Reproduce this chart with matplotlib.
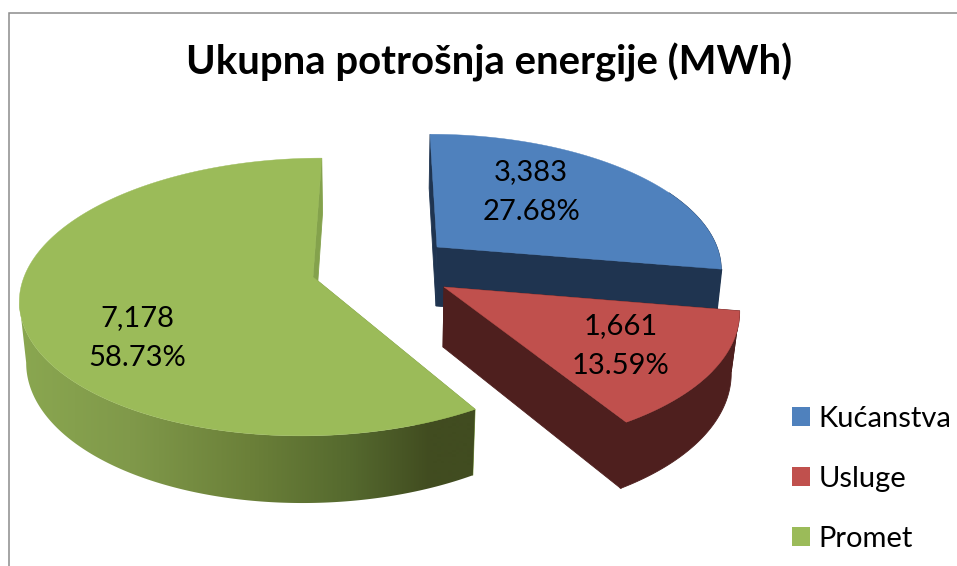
import numpy as np
import matplotlib
matplotlib.use("Agg")
import matplotlib.pyplot as plt
from matplotlib.patches import Polygon, Patch
from matplotlib.colors import to_rgb

plt.rcParams['font.family'] = ['Lato', 'DejaVu Sans']

# ---- data ----
title = "Ukupna potrošnja energije (MWh)"
categories = ["Kućanstva", "Usluge", "Promet"]
values = [3383, 1661, 7178]

# ---- styles ----
top_colors = ["#4F81BD", "#C0504D", "#9BBB59"]
wall_colors = ["#1F3450", "#4E1F1E", "#84A24C"]
green_wall_x = [20, 130, 250, 350, 430, 480]
green_wall_rgb = ["#8AA750", "#80994A", "#6B8039", "#55692E", "#414C20", "#414C20"]
PERSP = 0.144
# apex x, apex y, rx, ry, shear for the top face of each exploded wedge
geom = [(437, 247, 280, 129, -8), (444, 287, 291, 139, -9.5), (313, 277, 289, 136, 10)]
low_apex = [(436, 306), (443, 347), (314, 337)]
low_fx = [0.98, 0.975, 0.98]
FY = 1.045
label_xy = [(531, 192), (621, 346), (137, 338)]

def rim(t, g, fx=1.0, fy=1.0, apex=None):
    ax_, ay_, rx, ry, sh = g
    if apex is not None:
        ax_, ay_ = apex
    X, Y = np.sin(t), np.cos(t)
    s = 1 / (1 + PERSP * Y)
    return np.column_stack([ax_ + fx * (rx * X + sh * Y) * s, ay_ - fy * ry * Y * s])

fig = plt.figure(figsize=(9.57, 5.66), dpi=100)
ax = fig.add_axes([0, 0, 1, 1])
ax.axis("off")

# chart frame
ax.plot([8.5, 8.5, 957], [566, 12.5, 12.5], color="#8C8C8C", lw=1.1, zorder=1, solid_joinstyle="miter")

total = sum(values)
fracs = np.array(values) / total
edges = np.concatenate([[0], np.cumsum(fracs)]) * 2 * np.pi

# horizontal shading used on the curved wall of the big wedge
xs = np.arange(958)
rgb = np.array([to_rgb(c) for c in green_wall_rgb])
shade = np.column_stack([np.interp(xs, green_wall_x, rgb[:, c]) for c in range(3)])[None, :, :]

# draw order: back wedge, then the big wedge, then the front wedge
for z, i in enumerate([0, 2, 1]):
    t = np.linspace(edges[i], edges[i + 1], 400)
    g = geom[i]
    top = rim(t, g)
    bot = rim(t, g, low_fx[i], FY, low_apex[i])
    base = 2 + z * 3
    apex_top = g[:2]
    apex_low = low_apex[i]
    front = np.cos(t) < 0.45
    # straight walls at both edges of the wedge
    for k in (0, -1):
        ax.add_patch(Polygon([top[k], apex_top, apex_low, bot[k]], closed=True,
                             fc=wall_colors[i], ec=wall_colors[i], lw=0.6, zorder=base))
    if i == 2:
        # outer silhouette runs straight from the leftmost point of the top rim to that of the lower rim
        band = np.vstack([top[:np.argmin(top[:, 0]) + 1], bot[:np.argmin(bot[:, 0]) + 1][::-1]])
        wall = Polygon(band, closed=True, fc="none", ec="none", transform=ax.transData)
        im = ax.imshow(shade, extent=(0, 957, 566, 0), aspect="auto", interpolation="bilinear", zorder=base + 1)
        ax.add_patch(wall)
        im.set_clip_path(wall)
    else:
        band = np.vstack([top[front], bot[front][::-1]])
        ax.add_patch(Polygon(band, closed=True, fc=wall_colors[i], ec=wall_colors[i], lw=0.6, zorder=base + 1))
        # close the joint between the curved wall and the straight wall
        ax.plot([top[-1, 0], bot[-1, 0]], [top[-1, 1], bot[-1, 1]], color=wall_colors[i], lw=1.5,
                solid_capstyle="butt", zorder=base + 1)
    # top face
    ax.add_patch(Polygon(np.vstack([top, [apex_top]]), closed=True, fc=top_colors[i], ec=top_colors[i],
                         lw=0.3, zorder=base + 2))

ax.set_xlim(0, 957)
ax.set_ylim(566, 0)

for i, (x, y) in enumerate(label_xy):
    ax.text(x, y, f"{values[i]:,}\n{fracs[i] * 100:.2f}%", ha="center", va="center",
            fontsize=21, color="black", linespacing=1.68, zorder=20)

ax.text(489, 62, title, ha="center", va="center", fontsize=28.8, fontweight="bold", color="black", zorder=20)

fs = 21
handles = [Patch(fc=c, ec="none") for c in top_colors]
ax.legend(handles, categories, loc="upper left", bbox_to_anchor=(792 / 957, 1 - 406 / 566),
          frameon=False, fontsize=fs, handlelength=18 / (fs / 0.72), handleheight=18 / (fs / 0.72),
          handletextpad=0.3, labelspacing=1.16, borderpad=0, borderaxespad=0)

fig.savefig("out.png", dpi=100)
